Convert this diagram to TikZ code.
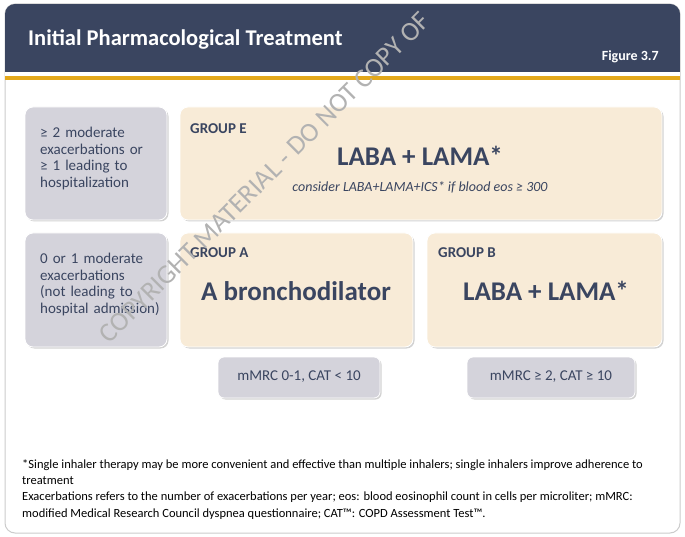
\documentclass[tikz,border=0pt]{standalone}
\usepackage{fontspec}
\setmainfont{Carlito}
\usetikzlibrary{shadows}
\definecolor{navy}{HTML}{3A4560}
\definecolor{gold}{HTML}{E3A81B}
\definecolor{gbox}{HTML}{D4D3DB}
\definecolor{beige}{HTML}{F8EBD7}
\definecolor{txt}{HTML}{3A4560}
\begin{document}
\begin{tikzpicture}[x=1pt,y=-1pt,
  box/.style={rounded corners=8pt,draw=white,line width=0.8pt,drop shadow={shadow xshift=1.5pt,shadow yshift=-1.5pt,opacity=0.35}},
  gb/.style={box,fill=gbox},
  bb/.style={box,fill=beige},
  lbl/.style={text=txt,font=\fontsize{15}{16.5}\selectfont,align=left,anchor=north west,inner sep=0pt,text width=135pt},
  grp/.style={text=txt,font=\fontsize{15}{17}\selectfont\bfseries,anchor=west,inner sep=0pt},
  big/.style={text=txt,font=\fontsize{27}{30}\selectfont\bfseries,inner sep=0pt},
  foot/.style={font=\fontsize{12.5}{14}\selectfont,anchor=west,inner sep=0pt}]
\useasboundingbox (0,0) rectangle (685,537);
\fill[white] (0,0) rectangle (685,537);
\draw[gray!40,fill=white,rounded corners=10pt,line width=1pt] (5,4) rectangle (680,533);
\begin{scope}
\clip[rounded corners=10pt] (5,4) rectangle (680,533);
\fill[navy] (5,4) rectangle (680,72);
\fill[white] (5,72) rectangle (680,76);
\fill[gold] (5,76) rectangle (680,80);
\end{scope}
\node[anchor=west,text=white,font=\fontsize{22.5}{25}\selectfont\bfseries,inner sep=0pt] (title) at (28,39) {Initial Pharmacological Treatment};
\node[anchor=east,text=white,font=\fontsize{14}{16}\selectfont\bfseries,inner sep=0pt] (fig) at (659,57) {Figure 3.7};
% boxes
\draw[gb] (25,107) rectangle (167,220);
\node[lbl] (l1) at (40,127) {≥ 2 moderate\\exacerbations or\\≥ 1 leading to\\hospitalization};
\draw[bb] (180,107) rectangle (662,220);
\draw[gb] (25,233) rectangle (167,347);
\node[lbl] (l2) at (40,253) {0 or 1 moderate\\exacerbations\\(not leading to\\hospital admission)};
\draw[bb] (180,233) rectangle (413,347);
\draw[bb] (427,233) rectangle (662,347);
\draw[gb,rounded corners=6pt] (218,357) rectangle (380,398);
\draw[gb,rounded corners=6pt] (467,357) rectangle (635,398);
\node[grp] (ge) at (190,129) {GROUP E};
\node[big] (le) at (420,156) {LABA + LAMA*};
\node[text=txt,font=\fontsize{14}{16}\selectfont\itshape,inner sep=0pt] (ce) at (420,187) {consider LABA+LAMA+ICS* if blood eos ≥ 300};
\node[grp] (ga) at (190,253) {GROUP A};
\node[big] (ba) at (296,291) {A bronchodilator};
\node[grp] (gbb) at (438,253) {GROUP B};
\node[big] (lb) at (546,291) {LABA + LAMA*};
\node[text=txt,font=\fontsize{15}{17}\selectfont,inner sep=0pt] (ma) at (299,377) {mMRC 0-1, CAT < 10};
\node[text=txt,font=\fontsize{15}{17}\selectfont,inner sep=0pt] (mb) at (551,377) {mMRC ≥ 2, CAT ≥ 10};
\node[foot] (f1) at (22,465) {*Single inhaler therapy may be more convenient and effective than multiple inhalers; single inhalers improve adherence to};
\node[foot] (f2) at (22,481) {treatment};
\node[foot] (f3) at (22,497) {Exacerbations refers to the number of exacerbations per year; eos: blood eosinophil count in cells per microliter; mMRC:};
\node[foot] (f4) at (22,514) {modified Medical Research Council dyspnea questionnaire; CAT™: COPD Assessment Test™.};
% watermark
\begin{scope}
\clip (5,4) rectangle (680,533);
\node[anchor=south west,rotate=45,text=gray!60,font=\fontsize{27}{29}\selectfont,inner sep=0pt] (wm) at (110,345) {COPYRIGHT MATERIAL - DO NOT COPY OF};
\end{scope}
\end{tikzpicture}
\end{document}
